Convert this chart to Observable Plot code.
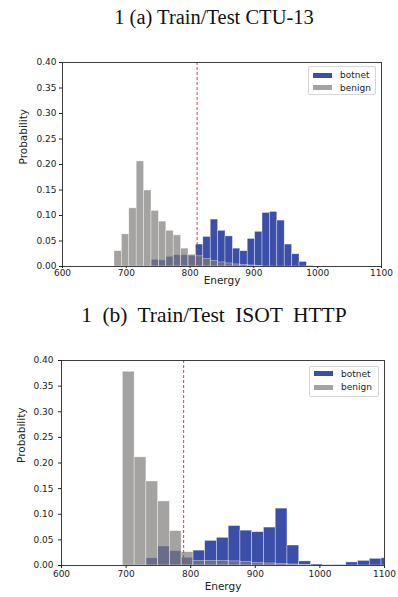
<!DOCTYPE html>
<html>
<head>
<meta charset="utf-8">
<script src="https://cdn.jsdelivr.net/npm/d3@7"></script>
<script src="https://cdn.jsdelivr.net/npm/@observablehq/plot@0.6"></script>
<style>
  html, body { margin: 0; padding: 0; background: #fff; }
  body { width: 398px; height: 597px; position: relative; overflow: hidden; font-family: "DejaVu Sans", sans-serif; }
  .title { position: absolute; left: 15px; width: 398px; text-align: center; white-space: pre;
           font-family: "Liberation Serif", "Times New Roman", serif; color: #111; }
  .panel { position: absolute; left: 0; }
  .legend { position: absolute; border: 1px solid #d6d6d6; border-radius: 2px; background: rgba(255,255,255,0.85);
            font-family: "DejaVu Sans", sans-serif; font-size: 9px; color: #222; box-sizing: border-box; }
  .legend .sw { position: absolute; left: 4px; width: 19px; height: 5px; }
  .legend .lb { position: absolute; left: 31px; line-height: 10px; height: 10px; }
</style>
</head>
<body>
<script>
// ---------- shared ----------
const energyTicks = [600, 700, 800, 900, 1000, 1100];
const probTicks = [0.00, 0.05, 0.10, 0.15, 0.20, 0.25, 0.30, 0.35, 0.40];
const seriesNames = ["botnet", "benign"];
const xLabel = "Energy";
const yLabel = "Probability";

// ---------- panel (a) : Train/Test CTU-13 ----------
const titleA = "1 (a) Train/Test CTU-13";
const binStartA = 681.5;   // lower edge of first bin (Energy)
const binWidthA = 11.6;    // bin width (Energy)
const botnetA = [0, 0, 0, 0, 0, 0.013, 0.012, 0.019, 0.022, 0.022, 0.021, 0.043, 0.058, 0.092,
                 0.070, 0.059, 0.035, 0.030, 0.054, 0.068, 0.105, 0.107, 0.090, 0.043, 0.024, 0.009, 0.001, 0];
const benignA = [0.030, 0.063, 0.114, 0.206, 0.149, 0.109, 0.088, 0.070, 0.061, 0.035, 0.023, 0.020, 0.015, 0.011,
                 0.008, 0.006, 0.004, 0.003, 0.002, 0.001, 0, 0, 0, 0, 0, 0, 0, 0];
const thresholdA = 811;

// ---------- panel (b) : Train/Test ISOT HTTP ----------
const titleB = "1 (b) Train/Test ISOT HTTP";
const binStartB = 695;
const binWidthB = 18.2;
const botnetB = [0, 0, 0.014, 0.037, 0.028, 0.015, 0.029, 0.048, 0.054, 0.077, 0.068, 0.065,
                 0.074, 0.111, 0.039, 0.008, 0.002, 0.0005, 0.001, 0.006, 0.009, 0.013, 0.014];
const benignB = [0.378, 0.211, 0.164, 0.125, 0.067, 0.026, 0.009, 0.009, 0.009, 0.008, 0.007, 0.005,
                 0.004, 0.003, 0.002, 0.001, 0, 0, 0, 0, 0, 0, 0];
const thresholdB = 789;

// ---------- styling ----------
const botnetColor = "#3b4ea8";
const benignColor = "#7f7a7a";
const benignOpacity = 0.7;

function bins(values, start, width, series) {
  return values.map((v, i) => ({x1: start + i * width, x2: start + (i + 1) * width, v, series}))
               .filter(d => d.v > 0);
}

function addTitle(text, top, size, wordSpacing) {
  const t = document.createElement("div");
  t.className = "title";
  t.textContent = text;
  t.style.top = top + "px";
  t.style.fontSize = size + "px";
  t.style.lineHeight = size + "px";
  t.style.wordSpacing = wordSpacing + "px";
  document.body.appendChild(t);
}

function addLegend(left, top, w, h, rows) {
  const box = document.createElement("div");
  box.className = "legend";
  Object.assign(box.style, {left: left + "px", top: top + "px", width: w + "px", height: h + "px"});
  seriesNames.forEach((name, i) => {
    const sw = document.createElement("div");
    sw.className = "sw";
    sw.style.top = rows[i] + "px";
    sw.style.background = name === "botnet" ? botnetColor : benignColor;
    sw.style.opacity = name === "botnet" ? 1 : benignOpacity;
    const lb = document.createElement("div");
    lb.className = "lb";
    lb.style.top = (rows[i] - 2.5) + "px";
    lb.textContent = name;
    box.appendChild(sw); box.appendChild(lb);
  });
  document.body.appendChild(box);
}

function panel(cfg) {
  const plot = Plot.plot({
    width: 398,
    height: cfg.height,
    marginTop: cfg.mt, marginBottom: cfg.mb, marginLeft: cfg.ml, marginRight: cfg.mr,
    style: {fontFamily: "DejaVu Sans, sans-serif", fontSize: "9px", color: "#222", background: "transparent", overflow: "visible"},
    x: {domain: [600, 1100]},
    y: {domain: [0, 0.4]},
    marks: [
      Plot.rect(bins(cfg.botnet, cfg.start, cfg.width, "botnet"),
        {x1: "x1", x2: "x2", y1: 0, y2: "v", fill: botnetColor, stroke: "#ffffff", strokeWidth: 0.6, strokeOpacity: 0.6, clip: true}),
      Plot.rect(bins(cfg.benign, cfg.start, cfg.width, "benign"),
        {x1: "x1", x2: "x2", y1: 0, y2: "v", fill: benignColor, fillOpacity: benignOpacity, stroke: "#ffffff", strokeWidth: 0.6, strokeOpacity: 0.6, clip: true}),
      Plot.ruleX([cfg.threshold], {stroke: "#e0302a", strokeWidth: 1.1, strokeDasharray: "3,2", strokeOpacity: 0.85}),
      Plot.frame({stroke: "#2a2a2a", strokeWidth: 0.9}),
      Plot.axisY({ticks: probTicks, tickFormat: d3.format(".2f"), tickSize: 3, tickPadding: cfg.ypad, label: null, fontSize: 9}),
      Plot.axisX({ticks: energyTicks, tickFormat: d => String(d), tickSize: cfg.xtick, tickPadding: cfg.xpad, label: null, fontSize: 9}),
      Plot.text([yLabel], {frameAnchor: "left", rotate: -90, dx: cfg.ylabDx, fontSize: 10.5, fill: "#222"}),
      Plot.text([xLabel], {frameAnchor: "bottom", dy: cfg.xlabDy, fontSize: 10.5, fill: "#222"})
    ]
  });
  plot.classList.add("panel");
  plot.style.top = cfg.top + "px";
  document.body.appendChild(plot);
}

// panel (a)
addTitle(titleA, 7, 20.5, 0);
panel({top: 42, height: 254, mt: 20, mb: 30, ml: 62, mr: 17,
       botnet: botnetA, benign: benignA, start: binStartA, width: binWidthA, threshold: thresholdA,
       ypad: 3, xtick: 2, xpad: 1, ylabDx: -39, xlabDy: 17.5});
addLegend(308, 66, 68, 29, [5.5, 18]);

// panel (b)
addTitle(titleB, 305, 21.5, 5);
panel({top: 340, height: 257, mt: 20, mb: 32, ml: 61, mr: 14,
       botnet: botnetB, benign: benignB, start: binStartB, width: binWidthB, threshold: thresholdB,
       ypad: 5, xtick: 3, xpad: 2, ylabDx: -40, xlabDy: 24});
addLegend(309, 366, 70, 31, [4, 17.5]);
</script>
</body>
</html>
